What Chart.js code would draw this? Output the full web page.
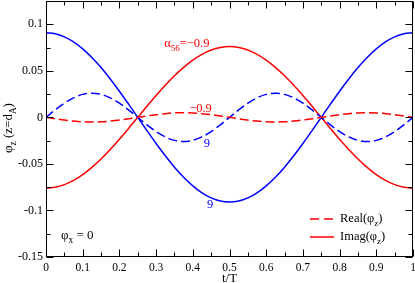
<!DOCTYPE html>
<html>
<head>
<meta charset="utf-8">
<script src="https://cdn.jsdelivr.net/npm/chart.js@4.4.1/dist/chart.umd.min.js"></script>
<style>
  html, body { margin: 0; padding: 0; background: #fff; }
  #wrap { width: 415px; height: 283px; }
</style>
</head>
<body>
<div id="wrap"><canvas id="chart"></canvas></div>
<script>
// t/T sample points, every 0.025
const T_VALUES = [0, 0.025, 0.05, 0.075, 0.1, 0.125, 0.15, 0.175, 0.2, 0.225, 0.25,
  0.275, 0.3, 0.325, 0.35, 0.375, 0.4, 0.425, 0.45, 0.475, 0.5,
  0.525, 0.55, 0.575, 0.6, 0.625, 0.65, 0.675, 0.7, 0.725, 0.75,
  0.775, 0.8, 0.825, 0.85, 0.875, 0.9, 0.925, 0.95, 0.975, 1];

// alpha56 = 0.9 (blue), imaginary part
const IMAG_POS = [0.091, 0.0899, 0.0865, 0.0811, 0.0736, 0.0643, 0.0535, 0.0413, 0.0281, 0.0142, 0,
  -0.0142, -0.0281, -0.0413, -0.0535, -0.0643, -0.0736, -0.0811, -0.0865, -0.0899, -0.091,
  -0.0899, -0.0865, -0.0811, -0.0736, -0.0643, -0.0535, -0.0413, -0.0281, -0.0142, 0,
  0.0142, 0.0281, 0.0413, 0.0535, 0.0643, 0.0736, 0.0811, 0.0865, 0.0899, 0.091];

// alpha56 = -0.9 (red), imaginary part
const IMAG_NEG = [-0.076, -0.0751, -0.0723, -0.0677, -0.0615, -0.0537, -0.0447, -0.0345, -0.0235, -0.0119, 0,
  0.0119, 0.0235, 0.0345, 0.0447, 0.0537, 0.0615, 0.0677, 0.0723, 0.0751, 0.076,
  0.0751, 0.0723, 0.0677, 0.0615, 0.0537, 0.0447, 0.0345, 0.0235, 0.0119, 0,
  -0.0119, -0.0235, -0.0345, -0.0447, -0.0537, -0.0615, -0.0677, -0.0723, -0.0751, -0.076];

// alpha56 = 0.9 (blue), real part
const REAL_POS = [0, 0.008, 0.0153, 0.021, 0.0247, 0.026, 0.0247, 0.021, 0.0153, 0.008, 0,
  -0.008, -0.0153, -0.021, -0.0247, -0.026, -0.0247, -0.021, -0.0153, -0.008, 0,
  0.008, 0.0153, 0.021, 0.0247, 0.026, 0.0247, 0.021, 0.0153, 0.008, 0,
  -0.008, -0.0153, -0.021, -0.0247, -0.026, -0.0247, -0.021, -0.0153, -0.008, 0];

// alpha56 = -0.9 (red), real part
const REAL_NEG = [0, -0.0015, -0.0029, -0.004, -0.0048, -0.005, -0.0048, -0.004, -0.0029, -0.0015, 0,
  0.0015, 0.0029, 0.004, 0.0048, 0.005, 0.0048, 0.004, 0.0029, 0.0015, 0,
  -0.0015, -0.0029, -0.004, -0.0048, -0.005, -0.0048, -0.004, -0.0029, -0.0015, 0,
  0.0015, 0.0029, 0.004, 0.0048, 0.005, 0.0048, 0.004, 0.0029, 0.0015, 0];

const X_MAJOR = [0, 0.1, 0.2, 0.3, 0.4, 0.5, 0.6, 0.7, 0.8, 0.9, 1];
const X_MINOR = [0.05, 0.15, 0.25, 0.35, 0.45, 0.55, 0.65, 0.75, 0.85, 0.95];
const Y_MAJOR = [-0.15, -0.1, -0.05, 0, 0.05, 0.1];
const Y_MINOR = [-0.125, -0.075, -0.025, 0.025, 0.075];

const RED = '#ff0000';
const BLUE = '#0000ff';
const SERIF = '"Liberation Serif", "DejaVu Serif", serif';

function pts(ys) {
  return T_VALUES.map((t, i) => ({ x: t, y: ys[i] }));
}

/**
 * Draw text with subscripts; parts = [[text, isSub], ...]
 */
function rich(ctx, parts, x, y, size, color, align = 'left') {
  const sub = size * 0.72;
  let total = 0;
  parts.forEach(([s, isSub]) => {
    ctx.font = `${isSub ? sub : size}px ${SERIF}`;
    total += ctx.measureText(s).width;
  });
  let cx = align === 'center' ? x - total / 2 : x;
  ctx.fillStyle = color;
  ctx.textBaseline = 'alphabetic';
  ctx.textAlign = 'left';
  parts.forEach(([s, isSub]) => {
    ctx.font = `${isSub ? sub : size}px ${SERIF}`;
    ctx.fillText(s, cx, isSub ? y + size * 0.3 : y);
    cx += ctx.measureText(s).width;
  });
}

const decorPlugin = {
  id: 'decor',
  afterDatasetsDraw(chart) {
    const { ctx, chartArea: a, scales: { x, y } } = chart;
    ctx.save();

    // frame
    const L = Math.round(a.left) + 0.5, R = Math.round(a.right) - 0.5;
    const T = Math.round(a.top) + 0.5, B = Math.round(a.bottom) - 0.5;
    ctx.strokeStyle = '#000';
    ctx.lineWidth = 1;
    ctx.strokeRect(L, T, R - L, B - T);

    // inward ticks on all four sides
    ctx.beginPath();
    const xt = (v, len) => {
      const px = Math.round(x.getPixelForValue(v)) + 0.5;
      ctx.moveTo(px, B); ctx.lineTo(px, B - len);
      ctx.moveTo(px, T); ctx.lineTo(px, T + len);
    };
    const yt = (v, len) => {
      const py = Math.round(y.getPixelForValue(v)) + 0.5;
      ctx.moveTo(L, py); ctx.lineTo(L + len, py);
      ctx.moveTo(R, py); ctx.lineTo(R - len, py);
    };
    X_MAJOR.forEach(v => xt(v, 7));
    X_MINOR.forEach(v => xt(v, 4));
    Y_MAJOR.forEach(v => yt(v, 7));
    Y_MINOR.forEach(v => yt(v, 4));
    ctx.stroke();

    // curve annotations
    const px = v => x.getPixelForValue(v);
    const py = v => y.getPixelForValue(v);
    rich(ctx, [['α', false], ['56', true], ['=−0.9', false]], px(0.322), py(0.0794) + 4, 12.5, RED);
    rich(ctx, [['−0.9', false]], px(0.39), py(0.0102) + 4, 12.5, RED);
    rich(ctx, [['9', false]], px(0.43), py(-0.0279) + 4, 12.5, BLUE);
    rich(ctx, [['9', false]], px(0.439), py(-0.0934) + 4, 12.5, BLUE);
    rich(ctx, [['φ', false], ['x', true], [' = 0', false]], px(0.041), py(-0.1266) + 4, 13, '#000');

    // legend
    ctx.strokeStyle = RED;
    ctx.lineWidth = 1.5;
    ctx.setLineDash([9, 5]);
    ctx.beginPath(); ctx.moveTo(310, 219); ctx.lineTo(334, 219); ctx.stroke();
    ctx.setLineDash([]);
    ctx.beginPath(); ctx.moveTo(310, 237); ctx.lineTo(334, 237); ctx.stroke();
    rich(ctx, [['Real(φ', false], ['z', true], [')', false]], 340, 222, 12.5, '#000');
    rich(ctx, [['Imag(φ', false], ['z', true], [')', false]], 340, 240, 12.5, '#000');

    // axis titles
    rich(ctx, [['t/T', false]], (a.left + a.right) / 2, 282, 13, '#000', 'center');
    ctx.save();
    ctx.translate(12, 128);
    ctx.rotate(-Math.PI / 2);
    rich(ctx, [['φ', false], ['z', true], [' (z=d', false], ['A', true], [')', false]], 0, 0, 13, '#000', 'center');
    ctx.restore();

    ctx.restore();
  }
};

const lineDs = (label, ys, color, dashed) => ({
  label,
  data: pts(ys),
  borderColor: color,
  borderWidth: 1.5,
  borderDash: dashed ? [9, 4] : [],
  pointRadius: 0,
  fill: false,
  cubicInterpolationMode: 'monotone'
});

new Chart(document.getElementById('chart'), {
  type: 'line',
  data: {
    datasets: [
      lineDs('Real(φz) α=-0.9', REAL_NEG, RED, true),
      lineDs('Real(φz) α=0.9', REAL_POS, BLUE, true),
      lineDs('Imag(φz) α=-0.9', IMAG_NEG, RED, false),
      lineDs('Imag(φz) α=0.9', IMAG_POS, BLUE, false)
    ]
  },
  options: {
    responsive: true,
    maintainAspectRatio: false,
    animation: false,
    layout: { padding: { top: 1, right: 2, left: 0, bottom: 0 } },
    plugins: {
      legend: { display: false },
      tooltip: { enabled: false }
    },
    scales: {
      x: {
        type: 'linear',
        min: 0,
        max: 1,
        grid: { display: false, drawTicks: false },
        border: { display: false },
        afterBuildTicks: s => { s.ticks = X_MAJOR.map(v => ({ value: v })); },
        afterFit: s => { s.height = 26; s.paddingLeft = 0; s.paddingRight = 0; },
        ticks: {
          padding: 4,
          maxRotation: 0,
          autoSkip: false,
          color: '#000',
          font: { family: SERIF, size: 11.5 },
          callback: v => String(v)
        }
      },
      y: {
        min: -0.15,
        max: 0.125,
        grid: { display: false, drawTicks: false },
        border: { display: false },
        afterBuildTicks: s => { s.ticks = Y_MAJOR.map(v => ({ value: v })); },
        afterFit: s => { s.width = 46; s.paddingTop = 0; s.paddingBottom = 0; },
        ticks: {
          padding: 3,
          autoSkip: false,
          color: '#000',
          font: { family: SERIF, size: 12 },
          callback: v => String(v)
        }
      }
    }
  },
  plugins: [decorPlugin]
});
</script>
</body>
</html>
